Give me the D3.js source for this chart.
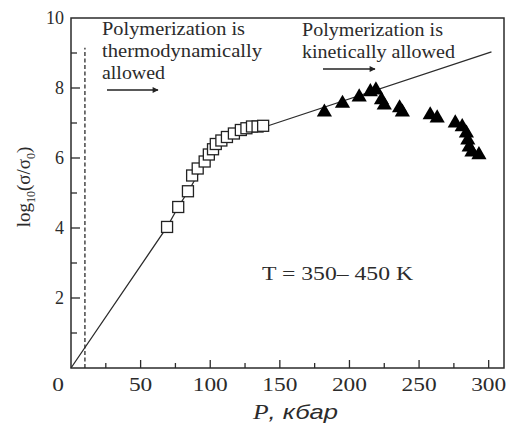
<!DOCTYPE html>
<html>
<head>
<meta charset="utf-8">
<script src="https://cdn.jsdelivr.net/npm/d3@7"></script>
<style>
  body { margin: 0; background: #fff; }
  svg { display: block; }
</style>
</head>
<body>
<svg id="chart" width="515" height="425"></svg>
<script>
// squares: thermodynamic region (P kbar, log10 sigma/sigma0)
const squareP = [69, 77, 84, 87, 91, 96, 99, 102, 104, 108, 112, 117, 122, 126, 130, 134, 138];
const squareLog = [4.03, 4.6, 5.05, 5.5, 5.7, 5.9, 6.1, 6.25, 6.4, 6.5, 6.6, 6.7, 6.8, 6.85, 6.9, 6.9, 6.92];

// triangles: kinetic region
const triP = [182, 195, 207, 215, 219, 223, 225, 236, 238, 258, 263, 276, 281, 284, 285, 286, 288, 293];
const triLog = [7.31, 7.56, 7.74, 7.89, 7.94, 7.66, 7.51, 7.43, 7.31, 7.23, 7.14, 7.0, 6.89, 6.71, 6.51, 6.31, 6.17, 6.09];

// guide line
const lineP = [0, 69, 77, 85, 95, 105, 120, 140, 302];
const lineLog = [0, 4.03, 4.6, 5.1, 5.8, 6.3, 6.7, 6.9, 9.03];

const xMajor = [0, 50, 100, 150, 200, 250, 300];
const xMinor = [25, 75, 125, 175, 225, 275];
const yMajor = [2, 4, 6, 8, 10];
const yMinor = [1, 3, 5, 7, 9];
const dashedP = 10;

const serif = "'Liberation Serif', 'Times New Roman', 'DejaVu Serif', serif";
const svg = d3.select("#chart");
const x = d3.scaleLinear().domain([0, 311]).range([71, 504]);
const y = d3.scaleLinear().domain([0, 10]).range([368, 18]);
const ink = "#2b2b2b";

// frame
svg.append("rect")
  .attr("x", x(0)).attr("y", y(10))
  .attr("width", x(311) - x(0)).attr("height", y(0) - y(10))
  .attr("fill", "none").attr("stroke", ink).attr("stroke-width", 1.5);

// ticks (pointing inward)
function tickLines(values, len, horizontal) {
  svg.append("g").selectAll("line").data(values).join("line")
    .attr("x1", d => horizontal ? x(d) : x(0))
    .attr("x2", d => horizontal ? x(d) : x(0) + len)
    .attr("y1", d => horizontal ? y(0) : y(d))
    .attr("y2", d => horizontal ? y(0) - len : y(d))
    .attr("stroke", ink).attr("stroke-width", 1.3);
}
tickLines(xMajor.slice(1), 8, true);
tickLines(xMinor, 5, true);
tickLines(yMajor.slice(0, -1), 9, false);
tickLines(yMinor, 6, false);

svg.append("g").selectAll("text").data(xMajor).join("text")
  .attr("transform", d => "translate(" + (d === 0 ? x(d) - 13 : x(d)) + ",391) scale(1.3,1)")
  .attr("text-anchor", "middle")
  .attr("font-family", serif)
  .attr("font-size", 18)
  .attr("fill", ink)
  .text(d => d);

svg.append("g").selectAll("text").data(yMajor).join("text")
  .attr("x", 64)
  .attr("y", d => y(d) + 6)
  .attr("text-anchor", "end")
  .attr("font-family", serif)
  .attr("font-size", 18)
  .attr("fill", ink)
  .text(d => d);

// dashed boundary
svg.append("line")
  .attr("x1", x(dashedP)).attr("x2", x(dashedP))
  .attr("y1", y(0)).attr("y2", y(9.15))
  .attr("stroke", ink).attr("stroke-width", 1.3)
  .attr("stroke-dasharray", "4,2.5");

// guide line
let linePts = lineP.map((p, i) => [p, lineLog[i]]);
svg.append("path")
  .datum(linePts)
  .attr("d", d3.line().x(d => x(d[0])).y(d => y(d[1])))
  .attr("fill", "none").attr("stroke", ink).attr("stroke-width", 1.3);

// squares
let sq = 11;
svg.append("g").selectAll("rect").data(squareP.map((p, i) => [p, squareLog[i]])).join("rect")
  .attr("x", d => x(d[0]) - sq / 2)
  .attr("y", d => y(d[1]) - sq / 2)
  .attr("width", sq).attr("height", sq)
  .attr("fill", "#fff").attr("stroke", "#222").attr("stroke-width", 1.3);

// triangles
let tri = d3.symbol().type(d3.symbolTriangle).size(100);
svg.append("g").selectAll("path").data(triP.map((p, i) => [p, triLog[i]])).join("path")
  .attr("transform", d => "translate(" + x(d[0]) + "," + y(d[1]) + ")")
  .attr("d", tri)
  .attr("fill", "#000");

// annotations, stretched to the widths seen in the figure
function textLine(s, x0, y0, size, width) {
  return svg.append("text")
    .attr("x", x0).attr("y", y0)
    .attr("font-family", serif)
    .attr("font-size", size)
    .attr("fill", ink)
    .attr("textLength", width)
    .attr("lengthAdjust", "spacingAndGlyphs")
    .text(s);
}
textLine("Polymerization is", 102, 35, 18, 143);
textLine("thermodynamically", 102, 57, 18, 160);
textLine("allowed", 102, 79, 18, 63);
textLine("Polymerization is", 302, 36, 18, 141);
textLine("kinetically allowed", 302, 58, 18, 153);
textLine("T = 350\u2013 450 K", 262, 280, 19, 151);

svg.append("defs").append("marker")
  .attr("id", "head").attr("viewBox", "0 0 10 10")
  .attr("refX", 9).attr("refY", 5)
  .attr("markerWidth", 9).attr("markerHeight", 6)
  .attr("markerUnits", "userSpaceOnUse")
  .attr("orient", "auto")
  .append("path").attr("d", "M0,0 L10,5 L0,10 Z").attr("fill", "#222");

function arrow(x1, x2, yy) {
  svg.append("line")
    .attr("x1", x1).attr("x2", x2).attr("y1", yy).attr("y2", yy)
    .attr("stroke", "#222").attr("stroke-width", 1.3)
    .attr("marker-end", "url(#head)");
}
arrow(107, 158, 90);
arrow(323, 375, 69);

// axis titles
let yt = svg.append("text")
  .attr("transform", "translate(30,187) rotate(-90)")
  .attr("text-anchor", "middle")
  .attr("font-family", serif)
  .attr("font-size", 19)
  .attr("fill", ink);
yt.append("tspan").text("log");
yt.append("tspan").attr("font-size", 12).attr("dy", 5).text("10");
yt.append("tspan").attr("dy", -5).text("(\u03c3/\u03c3");
yt.append("tspan").attr("font-size", 12).attr("dy", 5).text("0");
yt.append("tspan").attr("dy", -5).text(")");

let xt = svg.append("text")
  .attr("x", 253).attr("y", 419)
  .attr("font-size", 21)
  .attr("font-style", "italic")
  .attr("fill", ink)
  .attr("textLength", 85)
  .attr("lengthAdjust", "spacingAndGlyphs");
xt.append("tspan").attr("font-family", serif).text("P");
xt.append("tspan").attr("font-family", "'Liberation Sans', sans-serif").text(", \u043a\u0431\u0430\u0440");
</script>
</body>
</html>
